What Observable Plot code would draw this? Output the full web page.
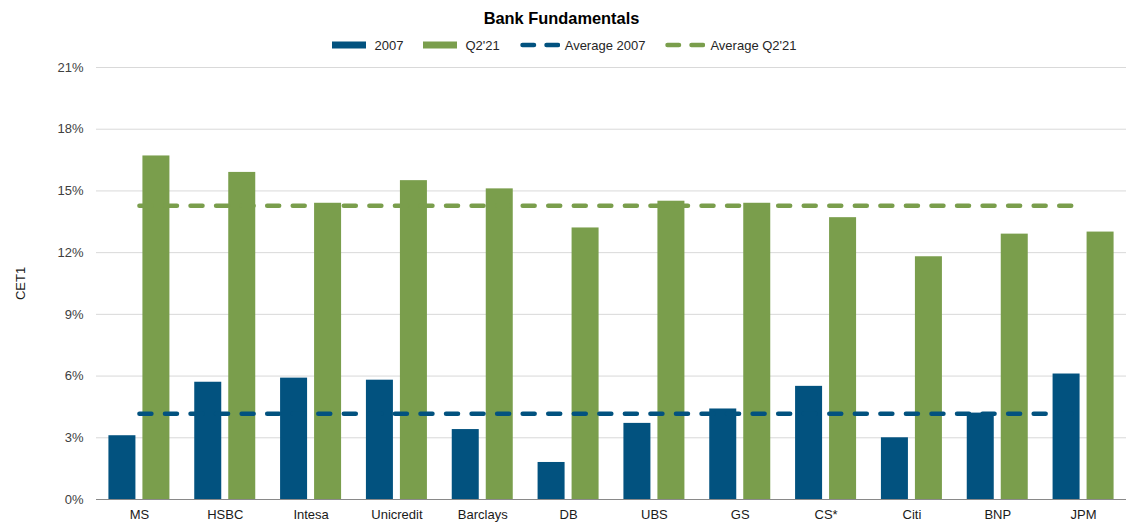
<!DOCTYPE html>
<html>
<head>
<meta charset="utf-8">
<script src="https://cdn.jsdelivr.net/npm/d3@7"></script>
<script src="https://cdn.jsdelivr.net/npm/@observablehq/plot@0.6"></script>
<style>
  html, body { margin: 0; padding: 0; background: #fff; }
  body { width: 1137px; height: 530px; overflow: hidden; font-family: "Liberation Sans", Arial, sans-serif; }
  #title { height: 32px; line-height: 37px; text-align: center; font-weight: bold; font-size: 16.4px; color: #000; padding-right: 14px; }
  #legend { height: 26px; display: flex; justify-content: center; align-items: center; font-size: 13px; color: #262626; padding-right: 8px; }
  .item { display: flex; align-items: center; margin: 0 10px; }
</style>
</head>
<body>
<div id="title">Bank Fundamentals</div>
<div id="legend"></div>
<div id="chart"></div>
<script>
// ---- data ----
const banks = ["MS", "HSBC", "Intesa", "Unicredit", "Barclays", "DB", "UBS", "GS", "CS*", "Citi", "BNP", "JPM"];
const values2007 = [3.1, 5.7, 5.9, 5.8, 3.4, 1.8, 3.7, 4.4, 5.5, 3.0, 4.2, 6.1];
const valuesQ221 = [16.7, 15.9, 14.4, 15.5, 15.1, 13.2, 14.5, 14.4, 13.7, 11.8, 12.9, 13.0];
const average2007 = 4.17;
const averageQ221 = 14.28;
const yTicks = [0, 3, 6, 9, 12, 15, 18, 21];
const seriesNames = ["2007", "Q2'21", "Average 2007", "Average Q2'21"];

// ---- styles ----
const BLUE = "#02527F";
const GREEN = "#7A9E4C";

const width = 1137, height = 472;
const marginLeft = 96, marginRight = 11, marginTop = 9, marginBottom = 31;
const band = (width - marginLeft - marginRight) / banks.length;

const rows2007 = banks.map((b, i) => ({bank: b, value: values2007[i]}));
const rowsQ221 = banks.map((b, i) => ({bank: b, value: valuesQ221[i]}));
const avgRows2007 = banks.map(b => ({bank: b, value: average2007}));
const avgRowsQ221 = banks.map(b => ({bank: b, value: averageQ221}));

const half = 30.5, gap = 3.5;
const dash = {strokeWidth: 4.5, strokeDasharray: "12,13.55", strokeLinecap: "round"};

const chart = Plot.plot({
  width, height, marginLeft, marginRight, marginTop, marginBottom,
  style: {fontFamily: "'Liberation Sans', Arial, sans-serif", fontSize: "13px", background: "#fff"},
  x: {domain: banks, padding: 0, round: false, label: null},
  y: {domain: [0, 21], ticks: yTicks, label: null},
  marks: [
    Plot.ruleY(yTicks.filter(t => t > 0), {stroke: "#d9d9d9", strokeWidth: 1}),
    Plot.axisY({ticks: yTicks, tickSize: 0, tickPadding: 13, tickFormat: d => d + "%", label: null, fill: "#404040", fontSize: 13}),
    Plot.axisX({tickSize: 0, tickPadding: 10, label: null, fill: "#1a1a1a", fontSize: 13}),
    Plot.barY(rows2007, {x: "bank", y: "value", fill: BLUE, insetLeft: band / 2 - half, insetRight: band / 2 + gap}),
    Plot.barY(rowsQ221, {x: "bank", y: "value", fill: GREEN, insetLeft: band / 2 + gap, insetRight: band / 2 - half}),
    Plot.ruleY([0], {stroke: "#898989", strokeWidth: 1}),
    Plot.line(avgRowsQ221, {x: "bank", y: "value", stroke: GREEN, ...dash}),
    Plot.line(avgRows2007, {x: "bank", y: "value", stroke: BLUE, ...dash}),
    Plot.text(["CET1"], {frameAnchor: "left", dx: -76, rotate: -90, textAnchor: "middle", fill: "#1a1a1a", fontSize: 13})
  ]
});
document.getElementById("chart").appendChild(chart);

// ---- legend ----
const legend = d3.select("#legend");
const swatches = [
  {name: seriesNames[0], color: BLUE, type: "rect"},
  {name: seriesNames[1], color: GREEN, type: "rect"},
  {name: seriesNames[2], color: BLUE, type: "dash"},
  {name: seriesNames[3], color: GREEN, type: "dash"}
];
swatches.forEach(s => {
  const it = legend.append("div").attr("class", "item");
  const svg = it.append("svg").attr("width", s.type === "rect" ? 34 : 40).attr("height", 10)
    .style("margin-right", s.type === "rect" ? "8px" : "5px");
  if (s.type === "rect") {
    svg.append("rect").attr("x", 0).attr("y", 1.5).attr("width", 34).attr("height", 7).attr("fill", s.color);
  } else {
    svg.append("line").attr("x1", 2.5).attr("x2", 38).attr("y1", 5).attr("y2", 5)
      .attr("stroke", s.color).attr("stroke-width", 4.5).attr("stroke-linecap", "round")
      .attr("stroke-dasharray", "11.5,12.5");
  }
  it.append("span").text(s.name);
});
</script>
</body>
</html>
